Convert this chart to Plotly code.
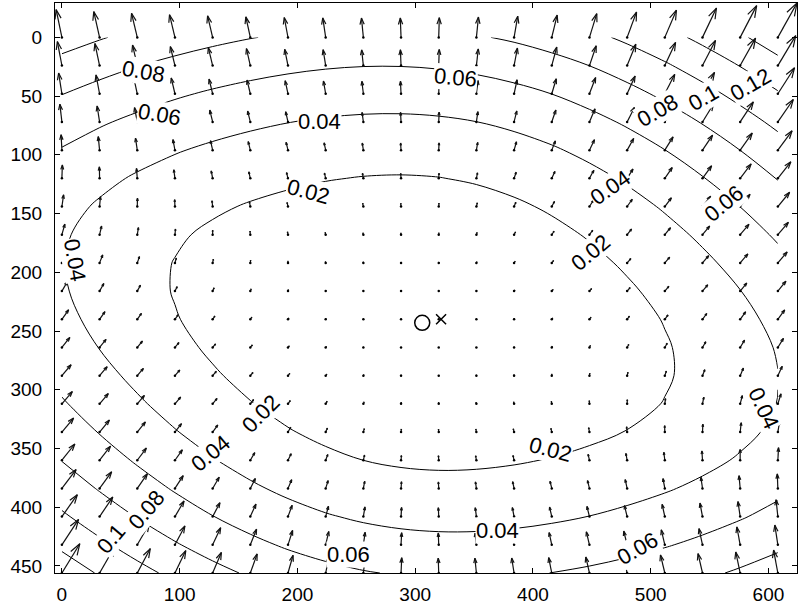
import numpy as np
import plotly.graph_objects as go

# ---- sampling grid of the field (pixel coordinates) ----
x_nodes = [0, 32, 64, 96, 128, 160, 192, 224, 256, 288, 320, 352, 384, 416, 448, 480, 512, 544, 576, 608]
y_nodes = [0, 24, 48, 72, 96, 120, 144, 168, 192, 216, 240, 264, 288, 312, 336, 360, 384, 408, 432, 456]

# ---- displacement field (quadratic fit about the o-mark) ----
field_centre = [306, 243]
field_unit = 100.0
up_coef = [0.0039, 0.0127, -0.0018, 0.00015]   # X^2, Y^2, XY, X^2*Y^2  (upward component)
east_coef = [0.0028, -0.0065]                  # X^2, XY               (rightward component)
arrow_scale = 222.0

contour_levels = [0.02, 0.04, 0.06, 0.08, 0.10, 0.12, 0.14]
x_ticks = [0, 100, 200, 300, 400, 500, 600]
y_ticks = [0, 50, 100, 150, 200, 250, 300, 350, 400, 450]
circle_mark = [306, 243]
cross_mark = [322, 240]

# ---- contour labels as placed in the picture ----
label_text = ["0.08", "0.06", "0.04", "0.02", "0.06", "0.02", "0.04", "0.08", "0.1", "0.12", "0.06",
              "0.04", "0.04", "0.02", "0.02", "0.04", "0.1", "0.08", "0.06", "0.04", "0.06"]
label_x = [69, 83, 219, 209, 334, 449, 466, 506, 545, 585, 562, 11, 596, 415, 169, 126, 42, 72, 243, 370, 489]
label_y = [29, 66, 72, 131, 34, 183, 128, 62, 51, 40, 141, 190, 316, 351, 320, 354, 427, 402, 440, 420, 435]
label_angle = [10, 10, 0, 15, 5, -40, -35, -30, -30, -30, -40, 80, 65, 15, -45, -40, -50, -50, 0, 0, -30]

# ---- field on the grid ----
gx, gy = np.meshgrid(np.array(x_nodes, float), np.array(y_nodes, float))
X = (gx - field_centre[0]) / field_unit
Y = (gy - field_centre[1]) / field_unit
north = up_coef[0] * X**2 + up_coef[1] * Y**2 + up_coef[2] * X * Y + up_coef[3] * (X * Y) ** 2
east = east_coef[0] * X**2 + east_coef[1] * X * Y
mag = np.hypot(east, north)

# ---- quiver (MATLAB style) ----
dx = arrow_scale * east
dy = -arrow_scale * north
alpha, beta = 0.33, 0.33
ax_, ay_ = [], []
all_x, all_y = [], []
for i in range(gx.shape[0]):
    for j in range(gx.shape[1]):
        x0, y0 = gx[i, j], gy[i, j]
        u, v = dx[i, j], dy[i, j]
        x1, y1 = x0 + u, y0 + v
        h1x = x1 - alpha * (u + beta * v)
        h1y = y1 - alpha * (v - beta * u)
        h2x = x1 - alpha * (u - beta * v)
        h2y = y1 - alpha * (v + beta * u)
        ax_ += [x0, x1, None, h1x, x1, h2x, None]
        ay_ += [y0, y1, None, h1y, y1, h2y, None]
        all_x += [x0, x1, h1x, h2x]
        all_y += [y0, y1, h1y, h2y]

xr = [min(all_x), max(all_x)]
yr = [max(all_y), min(all_y)]

fig = go.Figure()
fig.add_trace(go.Contour(
    x=x_nodes, y=y_nodes, z=mag,
    contours=dict(start=contour_levels[0], end=contour_levels[-1], size=0.02,
                  coloring='lines', showlabels=False),
    colorscale=[[0, 'black'], [1, 'black']], showscale=False,
    line=dict(width=1), hoverinfo='skip'))
fig.add_trace(go.Scatter(x=ax_, y=ay_, mode='lines',
                         line=dict(color='#111111', width=1.2), hoverinfo='skip'))
fig.add_trace(go.Scatter(x=gx.ravel(), y=gy.ravel(), mode='markers',
                         marker=dict(size=2.5, color='black'), hoverinfo='skip'))
fig.add_trace(go.Scatter(x=[circle_mark[0]], y=[circle_mark[1]], mode='markers',
                         marker=dict(symbol='circle-open', size=15, color='black', line=dict(width=1.5))))
fig.add_trace(go.Scatter(x=[cross_mark[0]], y=[cross_mark[1]], mode='markers',
                         marker=dict(symbol='x-thin-open', size=10, color='black', line=dict(width=1.5))))

for t, lx, ly, la in zip(label_text, label_x, label_y, label_angle):
    fig.add_annotation(x=lx, y=ly, text=t, textangle=la, showarrow=False,
                       font=dict(family='Arial', size=22, color='black'),
                       bgcolor='white', borderpad=0)

axis_style = dict(showgrid=False, zeroline=False, showline=True, linecolor='black', linewidth=1,
                  mirror='ticks', ticks='inside', ticklen=5, tickcolor='black', automargin=False,
                  tickfont=dict(family='Arial', size=19, color='black'))
fig.update_layout(
    width=800, height=608, showlegend=False,
    margin=dict(l=55, r=3, t=3, b=35),
    paper_bgcolor='white', plot_bgcolor='white',
    xaxis=dict(range=xr, tickvals=x_ticks, ticklabelstandoff=4, **axis_style),
    yaxis=dict(range=yr, tickvals=y_ticks, ticklabelstandoff=8, **axis_style),
)
fig.write_html("out.html", config={'displayModeBar': False},
               post_script="document.body.style.margin='0px';")
